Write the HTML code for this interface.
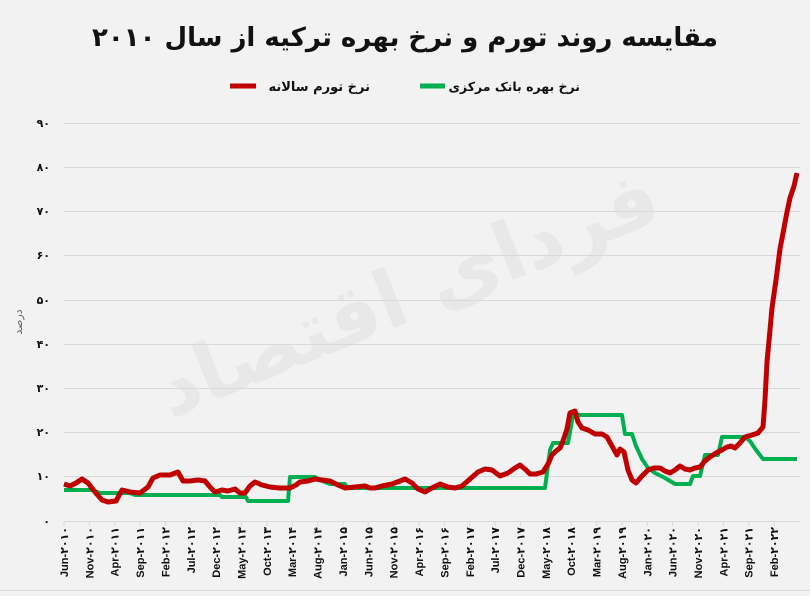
<!DOCTYPE html>
<html><head><meta charset="utf-8"><style>
html,body{margin:0;padding:0;background:#f2f2f2;}
body{width:810px;height:596px;overflow:hidden;position:relative;font-family:"DejaVu Sans",sans-serif;}
</style></head><body>
<svg width="810" height="596" viewBox="0 0 810 596" xmlns="http://www.w3.org/2000/svg" style="position:absolute;left:0;top:0">
<rect width="810" height="596" fill="#f2f2f2"/>
<text x="410" y="320" transform="rotate(-22 410 300)" font-family="DejaVu Sans" font-weight="bold" font-size="80" fill="#e8e8e8" text-anchor="middle" direction="rtl">فردای اقتصاد</text>
<text x="405" y="46" font-family="DejaVu Sans" font-weight="bold" font-size="26" fill="#111" text-anchor="middle" direction="rtl">مقایسه روند تورم و نرخ بهره ترکیه از سال ۲۰۱۰</text>
<line x1="230" y1="86" x2="256" y2="86" stroke="#c00000" stroke-width="5"/>
<text x="370" y="91" font-family="DejaVu Sans" font-weight="bold" font-size="13" fill="#111" text-anchor="start" direction="rtl">نرخ تورم سالانه</text>
<line x1="420" y1="86" x2="445" y2="86" stroke="#00b050" stroke-width="5"/>
<text x="580" y="91" font-family="DejaVu Sans" font-weight="bold" font-size="12.5" fill="#111" text-anchor="start" direction="rtl">نرخ بهره بانک مرکزی</text>
<g stroke="#d9d9d9" stroke-width="1">
<line x1="64" x2="800" y1="123.5" y2="123.5"/><line x1="64" x2="800" y1="167.5" y2="167.5"/><line x1="64" x2="800" y1="211.5" y2="211.5"/><line x1="64" x2="800" y1="255.5" y2="255.5"/><line x1="64" x2="800" y1="300.5" y2="300.5"/><line x1="64" x2="800" y1="344.5" y2="344.5"/><line x1="64" x2="800" y1="388.5" y2="388.5"/><line x1="64" x2="800" y1="432.5" y2="432.5"/><line x1="64" x2="800" y1="476.5" y2="476.5"/><line x1="64" x2="800" y1="521.5" y2="521.5"/>
<line x1="0" x2="810" y1="590.5" y2="590.5"/>
</g>
<g font-family="DejaVu Sans" font-weight="bold" font-size="11" fill="#111" text-anchor="end">
<text x="50" y="127">۹۰</text><text x="50" y="171">۸۰</text><text x="50" y="215">۷۰</text><text x="50" y="259">۶۰</text><text x="50" y="304">۵۰</text><text x="50" y="348">۴۰</text><text x="50" y="392">۳۰</text><text x="50" y="436">۲۰</text><text x="50" y="480">۱۰</text><text x="50" y="525">۰</text>
</g>
<text x="0" y="0" transform="translate(22,322) rotate(-90)" font-family="DejaVu Sans" font-size="11" fill="#666" text-anchor="middle" direction="rtl">درصد</text>
<g id="xt" stroke="#d9d9d9"></g>
<g id="xl" font-family="Liberation Sans, DejaVu Sans, sans-serif" font-weight="bold" font-size="11" fill="#111" text-anchor="end"></g>
<polyline fill="none" stroke="#00b050" stroke-width="4" stroke-linejoin="round" points="64,490 92,490 100,493 130,493 135,495 220,495 222,497 246,497 248,501 288,501 290,477 315,477 320,480 330,484 345,484 347,488 545,488 550,450 553,443 568,443 573,415 622,415 625,434 632,434 636,446 642,459 648,468 655,473 665,478 675,484 690,484 693,476 700,476 705,455 718,455 722,437 745,437 750,441 756,450 763,459 797,459"/>
<polyline fill="none" stroke="#c00000" stroke-width="5" stroke-linejoin="round" points="64,484 70,486 76,483 82,479 88,483 95,492 102,500 108,502 116,501 122,490 130,492 140,493 148,487 153,478 160,475 170,475 178,472 183,481 190,481 198,480 205,481 210,487 215,492 222,490 228,491 235,489 240,493 245,493 250,486 255,482 262,485 270,487 280,488 290,488 296,485 300,482 308,481 315,479 322,480 330,481 338,485 345,488 355,487 365,486 370,488 375,488 382,486 392,484 400,481 405,479 412,483 418,489 425,492 432,488 440,484 448,487 455,488 462,486 470,479 478,472 485,469 492,470 500,476 508,473 515,468 520,465 526,470 530,474 536,474 543,472 548,464 552,455 556,451 560,448 563,441 567,429 570,413 575,411 578,422 582,428 588,430 595,434 602,434 607,437 612,446 617,455 620,449 624,452 628,470 632,480 636,483 642,476 648,470 654,468 660,468 665,471 670,473 675,470 680,466 685,469 690,470 695,468 700,467 705,461 710,457 716,453 722,450 727,447 731,446 735,448 740,443 745,437 752,435 758,433 763,427 765,400 767,362 770,330 772,308 776,280 780,249 784,228 787,212 790,198 794,186 797,173"/>
</svg>
<script>
var m=5,y=2010;
var fa=function(s){return String(s).replace(/\d/g,function(d){return "۰۱۲۳۴۵۶۷۸۹"[d];});};
var names=["Jan","Feb","Mar","Apr","May","Jun","Jul","Aug","Sep","Oct","Nov","Dec"];
var xt=document.getElementById("xt"),xl=document.getElementById("xl"),ns="http://www.w3.org/2000/svg";
var ax=document.createElementNS(ns,"line");ax.setAttribute("x1",64);ax.setAttribute("x2",800);ax.setAttribute("y1",521.5);ax.setAttribute("y2",521.5);xt.appendChild(ax);
for(var i=0;i<29;i++){
 var x=64+25.36*i;
 var t=document.createElementNS(ns,"line");t.setAttribute("x1",x);t.setAttribute("x2",x);t.setAttribute("y1",521);t.setAttribute("y2",526);xt.appendChild(t);
 var tx=document.createElementNS(ns,"text");tx.setAttribute("transform","translate("+(x+4)+",527) rotate(-90)");
 tx.textContent=names[m]+"-"+fa(y);xl.appendChild(tx);
 m+=5;while(m>=12){m-=12;y++;}
}
</script>
</body></html>
